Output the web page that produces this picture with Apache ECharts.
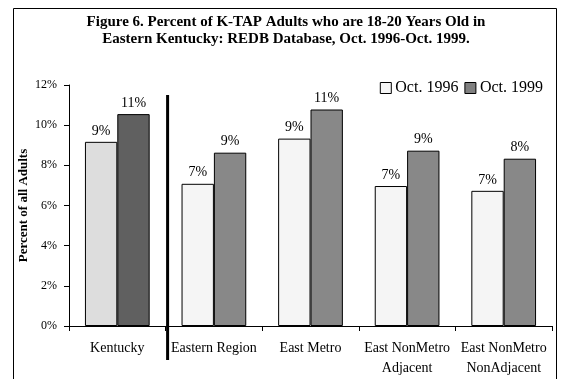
<!DOCTYPE html>
<head>
    <meta charset="utf-8">
    <title>ECharts</title>
</head>
<body style="margin:0">
   <div id="main" style="width:563px;height:379px"></div>
     <script src="https://cdn.jsdelivr.net/npm/echarts@6/dist/echarts.min.js"></script>
      <script type="text/javascript">
    var categories = ['Kentucky', 'Eastern Region', 'East Metro', 'East NonMetro\nAdjacent', 'East NonMetro\nNonAdjacent'];
    var oct1996 = [9.17, 7.08, 9.33, 6.97, 6.73];
    var oct1999 = [10.55, 8.63, 10.78, 8.73, 8.33];
    var yTicks = [0, 2, 4, 6, 8, 10, 12];

    var serif = '"Liberation Serif", "DejaVu Serif", serif';
    var myChart = echarts.init(document.getElementById("main"));

    // Kentucky bars use their own greys
    function withColors(values, first, rest) {
        return values.map(function (v, i) {
            return { value: v, itemStyle: { color: i === 0 ? first : rest } };
        });
    }

    var labelOpt = {
        show: true,
        position: 'top',
        distance: 4,
        color: '#000',
        fontFamily: serif,
        fontSize: 14,
        formatter: function (p) { return Math.round(p.value) + '%'; }
    };

    option = {
        animation: false,
        backgroundColor: '#fff',
        title: {
            text: 'Figure 6. Percent of K-TAP Adults who are 18-20 Years Old in\nEastern Kentucky: REDB Database, Oct. 1996-Oct. 1999.',
            left: 281,
            textAlign: 'center',
            top: 9,
            textStyle: { fontFamily: serif, fontSize: 15, fontWeight: 'bold', color: '#000', lineHeight: 17 }
        },
        legend: {
            right: 15,
            top: 75,
            icon: 'rect',
            itemWidth: 11,
            itemHeight: 11,
            itemGap: 6,
            textStyle: { fontFamily: serif, fontSize: 16, color: '#000', padding: [0, 0, 0, -1] },
            data: [
                { name: 'Oct. 1996', itemStyle: { color: '#f5f5f5', borderColor: '#000', borderWidth: 1 } },
                { name: 'Oct. 1999', itemStyle: { color: '#808080', borderColor: '#000', borderWidth: 1 } }
            ]
        },
        grid: { left: 69, right: 11, top: 85, bottom: 53, outerBoundsMode: 'none' },
        xAxis: {
            type: 'category',
            data: categories,
            axisLine: { lineStyle: { color: '#000' } },
            axisTick: { show: true, length: 5, lineStyle: { color: '#000' } },
            axisLabel: { fontFamily: serif, fontSize: 14, color: '#000', margin: 12, lineHeight: 20, interval: 0 }
        },
        yAxis: {
            type: 'value',
            min: yTicks[0],
            max: yTicks[yTicks.length - 1],
            interval: 2,
            name: 'Percent of all Adults',
            nameLocation: 'middle',
            nameGap: 39,
            nameMoveOverlap: false,
            nameTextStyle: { fontFamily: serif, fontSize: 13, fontWeight: 'bold', color: '#000' },
            splitLine: { show: false },
            axisLine: { show: true, lineStyle: { color: '#000' } },
            axisTick: { show: true, length: 5, lineStyle: { color: '#000' } },
            axisLabel: { fontFamily: serif, fontSize: 12, color: '#000', margin: 12, formatter: '{value}%' }
        },
        series: [
            {
                name: 'Oct. 1996',
                type: 'bar',
                data: withColors(oct1996, '#dddddd', '#f5f5f5'),
                itemStyle: { color: '#f5f5f5', borderColor: '#000', borderWidth: 1 },
                barGap: '0%',
                barCategoryGap: '33%',
                label: labelOpt
            },
            {
                name: 'Oct. 1999',
                type: 'bar',
                data: withColors(oct1999, '#606060', '#888888'),
                itemStyle: { color: '#808080', borderColor: '#000', borderWidth: 1 },
                label: labelOpt
            }
        ]
    };
    myChart.setOption(option);

    // divider line after Kentucky, plus the frame
    var c0 = myChart.convertToPixel({ xAxisIndex: 0 }, 0);
    var c1 = myChart.convertToPixel({ xAxisIndex: 0 }, 1);
    var xDiv = (c0 + c1) / 2 + 2;
    var yTop = myChart.convertToPixel({ yAxisIndex: 0 }, 11.5);
    var yBase = myChart.convertToPixel({ yAxisIndex: 0 }, 0);
    myChart.setOption({
        graphic: [
            { type: 'rect', shape: { x: 13.5, y: 8.5, width: 543, height: 380 },
              style: { fill: 'none', stroke: '#000', lineWidth: 1 }, silent: true },
            { type: 'line', shape: { x1: xDiv, y1: yTop, x2: xDiv, y2: yBase + 34 },
              style: { stroke: '#000', lineWidth: 3 }, silent: true }
        ]
    });
</script>
</body>
